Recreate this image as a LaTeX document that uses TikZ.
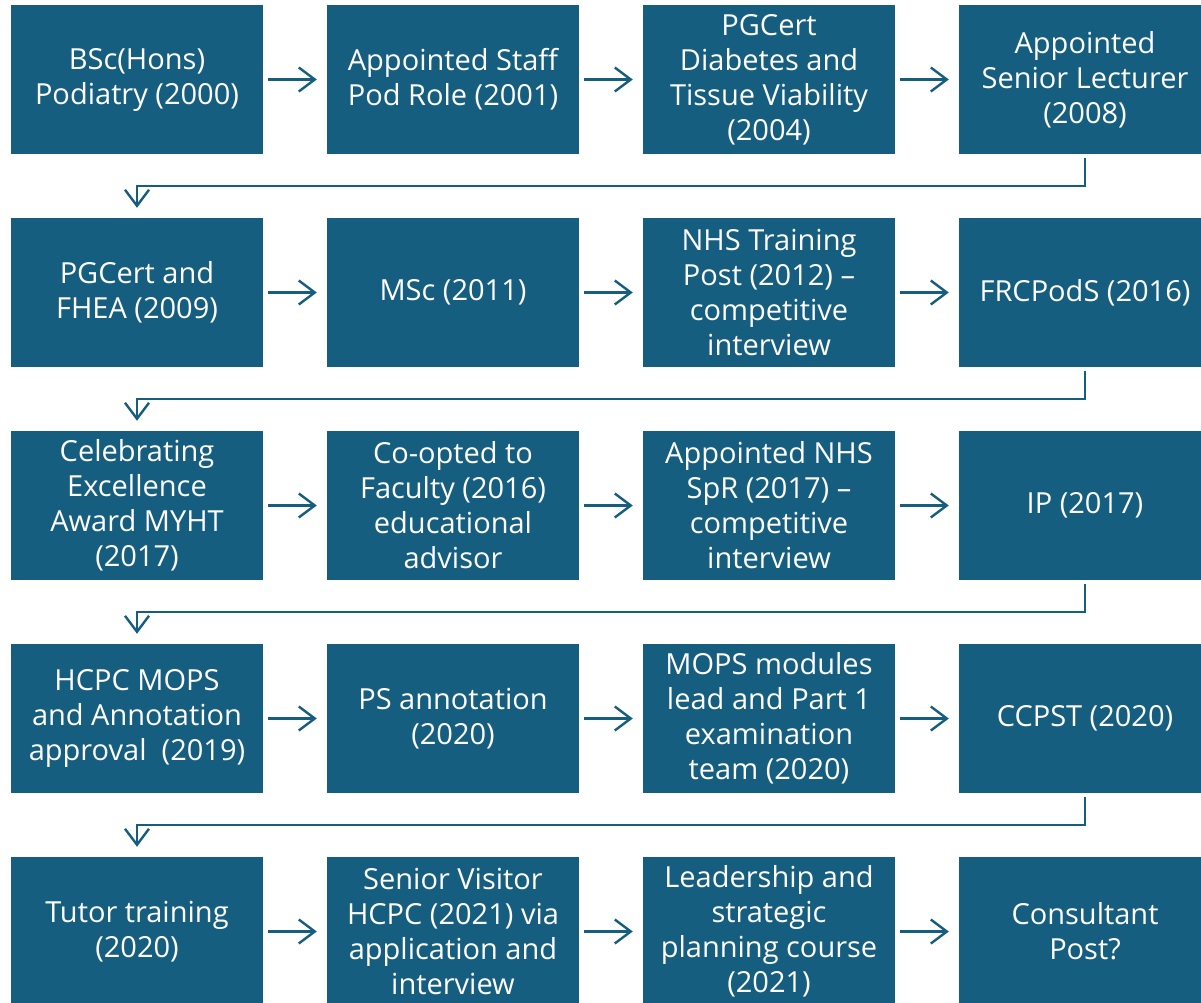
\documentclass[tikz,border=0pt]{standalone}
\usepackage{fontspec}
\setmainfont{Open Sans}
\usetikzlibrary{arrows.meta}
\definecolor{boxc}{HTML}{165E80}
\tikzset{
  x=1pt,y=1pt,
  stepbox/.style={fill=boxc, draw=none, minimum width=252pt, minimum height=149pt, inner sep=0pt,
    text=white, align=center, font=\fontsize{29}{35}\selectfont},
  harrow/.style={draw=boxc, line width=2.4pt, shorten <=5pt, shorten >=10pt,
    -{Straight Barb[length=16pt,width=24pt,line width=2.4pt]}},
  elbow/.style={draw=boxc, line width=2.4pt,
    -{Straight Barb[length=16pt,width=24pt,line width=2.4pt]}}
}
\begin{document}
\begin{tikzpicture}
\useasboundingbox (0,0) rectangle (1201,-1002);
% row 1
\node[stepbox] (a1) at (137,-79.5) {BSc(Hons)\\Podiatry (2000)};
\node[stepbox] (a2) at (453,-79.5) {Appointed Staff\\Pod Role (2001)};
\node[stepbox] (a3) at (769,-79.5) {PGCert\\Diabetes and\\Tissue Viability\\(2004)};
\node[stepbox] (a4) at (1085,-79.5) {Appointed\\Senior Lecturer\\(2008)};
% row 2
\node[stepbox] (b1) at (137,-292.5) {PGCert and\\FHEA (2009)};
\node[stepbox] (b2) at (453,-292.5) {MSc (2011)};
\node[stepbox] (b3) at (769,-292.5) {NHS Training\\Post (2012) –\\competitive\\interview};
\node[stepbox] (b4) at (1085,-292.5) {FRCPodS (2016)};
% row 3
\node[stepbox] (c1) at (137,-505.5) {Celebrating\\Excellence\\Award MYHT\\(2017)};
\node[stepbox] (c2) at (453,-505.5) {Co-opted to\\Faculty (2016)\\educational\\advisor};
\node[stepbox] (c3) at (769,-505.5) {Appointed NHS\\SpR (2017) –\\competitive\\interview};
\node[stepbox] (c4) at (1085,-505.5) {IP (2017)};
% row 4
\node[stepbox] (d1) at (137,-718.5) {HCPC MOPS\\and Annotation\\approval~ (2019)};
\node[stepbox] (d2) at (453,-718.5) {PS annotation\\(2020)};
\node[stepbox] (d3) at (769,-718.5) {MOPS modules\\lead and Part 1\\examination\\team (2020)};
\node[stepbox] (d4) at (1085,-718.5) {CCPST (2020)};
% row 5
\node[stepbox] (e1) at (137,-931.5) {Tutor training\\(2020)};
\node[stepbox] (e2) at (453,-931.5) {Senior Visitor\\HCPC (2021) via\\application and\\interview};
\node[stepbox] (e3) at (769,-931.5) {Leadership and\\strategic\\planning course\\(2021)};
\node[stepbox] (e4) at (1085,-931.5) {Consultant\\Post?};
% horizontal arrows
\foreach \r in {a,b,c,d,e}{
  \draw[harrow] (\r1.east) -- (\r2.west);
  \draw[harrow] (\r2.east) -- (\r3.west);
  \draw[harrow] (\r3.east) -- (\r4.west);
}
% elbow connectors
\draw[elbow] ([yshift=-4pt]a4.south) -- ([yshift=-32pt]a4.south) -| ([yshift=10pt]b1.north);
\draw[elbow] ([yshift=-4pt]b4.south) -- ([yshift=-32pt]b4.south) -| ([yshift=10pt]c1.north);
\draw[elbow] ([yshift=-4pt]c4.south) -- ([yshift=-32pt]c4.south) -| ([yshift=10pt]d1.north);
\draw[elbow] ([yshift=-4pt]d4.south) -- ([yshift=-32pt]d4.south) -| ([yshift=10pt]e1.north);
\end{tikzpicture}
\end{document}
